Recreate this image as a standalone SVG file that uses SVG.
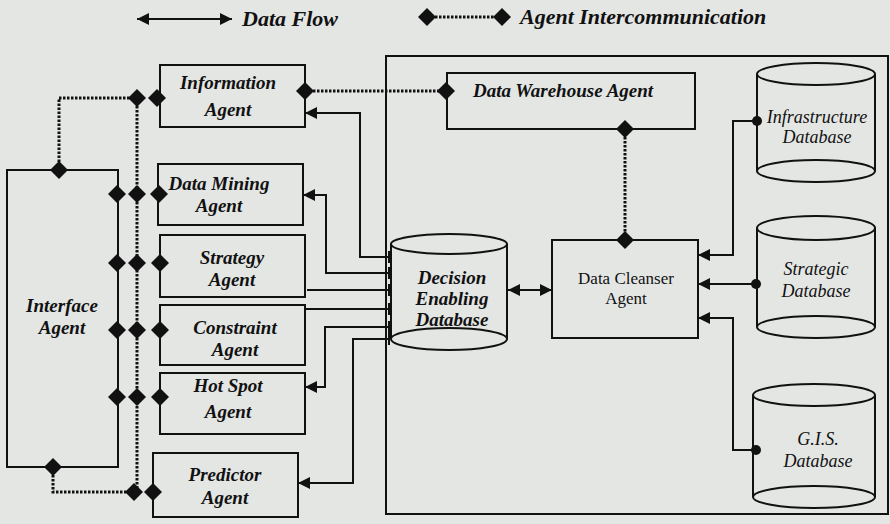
<svg xmlns="http://www.w3.org/2000/svg" xmlns:xlink="http://www.w3.org/1999/xlink" width="890" height="524" viewBox="0 0 890 524">
  <defs>
    <style>
      .box { fill: none; stroke: #111; stroke-width: 2; }
      .line { fill: none; stroke: #111; stroke-width: 2; }
      .dot { fill: none; stroke: #111; stroke-width: 3; stroke-dasharray: 2.5 1.5; }
      .agent { font-family: "Liberation Serif", "Times New Roman", serif; font-size: 19px; font-weight: bold; font-style: italic; fill: #111; text-anchor: middle; }
      .db { font-family: "Liberation Serif", "Times New Roman", serif; font-size: 18px; font-style: italic; fill: #111; text-anchor: middle; }
      .plain { font-family: "Liberation Serif", "Times New Roman", serif; font-size: 17px; fill: #111; text-anchor: middle; }
      .legend { font-family: "Liberation Serif", "Times New Roman", serif; font-size: 22px; font-weight: bold; font-style: italic; fill: #111; }
      .cyl { fill: none; stroke: #111; stroke-width: 2; }
    </style>
    <marker id="arrow" markerUnits="userSpaceOnUse" markerWidth="12" markerHeight="12" refX="12" refY="6" orient="auto-start-reverse">
      <path d="M0,0 L12,6 L0,12 Z" fill="#111"/>
    </marker>
    <marker id="tick" markerUnits="userSpaceOnUse" markerWidth="4" markerHeight="12" refX="2" refY="6" orient="auto">
      <path d="M2,0 V12" stroke="#111" stroke-width="2"/>
    </marker>
    <path id="dia" d="M0,-9 L9,0 L0,9 L-9,0 Z" fill="#111"/>
    <circle id="pin" r="5" fill="#111"/>
  </defs>

  <rect width="890" height="524" fill="#e4e6e4"/>

  <!-- legend -->
  <g id="legend">
    <line class="line" x1="137" y1="19" x2="232" y2="19" marker-start="url(#arrow)" marker-end="url(#arrow)"/>
    <text class="legend" x="242" y="26">Data Flow</text>
    <line class="dot" x1="427" y1="17" x2="502" y2="17"/>
    <use xlink:href="#dia" x="427" y="17"/>
    <use xlink:href="#dia" x="502" y="17"/>
    <text class="legend" x="520" y="24">Agent Intercommunication</text>
  </g>

  <!-- enclosing frame of the data layer -->
  <rect id="data-layer" class="box" x="386" y="56" width="502" height="458"/>

  <!-- connectors -->
  <g id="connectors">
    <!-- agent intercommunication (dotted) -->
    <polyline class="dot" points="59,170 59,98 137,98"/>
    <line class="dot" x1="137" y1="98" x2="137" y2="492"/>
    <polyline class="dot" points="53,467 53,492 135,492"/>
    <line class="dot" x1="305" y1="91" x2="446" y2="91"/>
    <line class="dot" x1="625" y1="129" x2="625" y2="240"/>

    <!-- data flow between decision database and agents -->
    <path class="line" d="M389,257 H360 V113 H305" marker-start="url(#tick)" marker-end="url(#arrow)"/>
    <path class="line" d="M389,273 H326 V195 H303" marker-start="url(#tick)" marker-end="url(#arrow)"/>
    <path class="line" d="M307,290 H389" marker-end="url(#tick)"/>
    <path class="line" d="M306,309 H389" marker-end="url(#tick)"/>
    <path class="line" d="M389,327 H325 V387 H305" marker-start="url(#tick)" marker-end="url(#arrow)"/>
    <path class="line" d="M389,339 H353 V483 H298" marker-start="url(#tick)" marker-end="url(#arrow)"/>

    <!-- decision database <-> data cleanser -->
    <line class="line" x1="508" y1="290" x2="552" y2="290" marker-start="url(#arrow)" marker-end="url(#arrow)"/>

    <!-- source databases into data cleanser -->
    <path class="line" d="M757,121 H733 V255 H698" marker-end="url(#arrow)"/>
    <path class="line" d="M756,284 H698" marker-end="url(#arrow)"/>
    <path class="line" d="M756,450 H733 V318 H698" marker-end="url(#arrow)"/>
    <use xlink:href="#pin" x="757" y="121"/>
    <use xlink:href="#pin" x="756" y="284"/>
    <use xlink:href="#pin" x="756" y="450"/>

    <!-- diamonds on the interface agent -->
    <use xlink:href="#dia" x="59" y="170"/>
    <use xlink:href="#dia" x="53" y="467"/>
    <use xlink:href="#dia" x="117" y="194"/>
    <use xlink:href="#dia" x="117" y="263"/>
    <use xlink:href="#dia" x="117" y="330"/>
    <use xlink:href="#dia" x="117" y="397"/>
    <!-- diamonds on the shared bus -->
    <use xlink:href="#dia" x="137" y="98"/>
    <use xlink:href="#dia" x="137" y="194"/>
    <use xlink:href="#dia" x="137" y="263"/>
    <use xlink:href="#dia" x="137" y="330"/>
    <use xlink:href="#dia" x="137" y="397"/>
    <use xlink:href="#dia" x="134" y="492"/>
    <!-- diamonds on the agents -->
    <use xlink:href="#dia" x="157" y="98"/>
    <use xlink:href="#dia" x="159" y="194"/>
    <use xlink:href="#dia" x="160" y="263"/>
    <use xlink:href="#dia" x="160" y="330"/>
    <use xlink:href="#dia" x="160" y="397"/>
    <use xlink:href="#dia" x="153" y="492"/>
    <use xlink:href="#dia" x="305" y="91"/>
    <use xlink:href="#dia" x="446" y="91"/>
    <use xlink:href="#dia" x="625" y="129"/>
    <use xlink:href="#dia" x="625" y="240"/>
  </g>

  <!-- agents -->
  <g id="interface-agent">
    <rect class="box" x="7" y="170" width="111" height="297"/>
    <text class="agent" x="62" y="312">Interface</text>
    <text class="agent" x="62" y="334">Agent</text>
  </g>
  <g id="information-agent">
    <rect class="box" x="160" y="65" width="145" height="62"/>
    <text class="agent" x="228" y="89">Information</text>
    <text class="agent" x="228" y="116">Agent</text>
  </g>
  <g id="data-mining-agent">
    <rect class="box" x="158" y="164" width="145" height="61"/>
    <text class="agent" x="219" y="190">Data Mining</text>
    <text class="agent" x="219" y="212">Agent</text>
  </g>
  <g id="strategy-agent">
    <rect class="box" x="160" y="235" width="145" height="62"/>
    <text class="agent" x="232" y="264">Strategy</text>
    <text class="agent" x="232" y="286">Agent</text>
  </g>
  <g id="constraint-agent">
    <rect class="box" x="160" y="305" width="145" height="60"/>
    <text class="agent" x="235" y="334">Constraint</text>
    <text class="agent" x="235" y="356">Agent</text>
  </g>
  <g id="hot-spot-agent">
    <rect class="box" x="160" y="373" width="145" height="61"/>
    <text class="agent" x="228" y="392">Hot Spot</text>
    <text class="agent" x="228" y="418">Agent</text>
  </g>
  <g id="predictor-agent">
    <rect class="box" x="153" y="453" width="145" height="64"/>
    <text class="agent" x="225" y="481">Predictor</text>
    <text class="agent" x="225" y="504">Agent</text>
  </g>

  <!-- data layer -->
  <g id="data-warehouse-agent">
    <rect class="box" x="447" y="73" width="248" height="56"/>
    <text class="agent" x="563" y="97">Data Warehouse Agent</text>
  </g>
  <g id="data-cleanser-agent">
    <rect class="box" x="552" y="240" width="146" height="98"/>
    <text class="plain" x="626" y="284">Data Cleanser</text>
    <text class="plain" x="626" y="304">Agent</text>
  </g>
  <g id="decision-enabling-database">
    <path class="cyl" d="M391,244 V339 A58,11 0 0 0 507,339 V244"/>
    <ellipse class="cyl" cx="449" cy="244" rx="58" ry="10"/>
    <path class="cyl" d="M391,339 A58,11 0 0 1 507,339"/>
    <text class="agent" x="452" y="284">Decision</text>
    <text class="agent" x="452" y="305">Enabling</text>
    <text class="agent" x="452" y="326">Database</text>
  </g>
  <g id="infrastructure-database">
    <path class="cyl" d="M757,74 V171 A59,11 0 0 0 875,171 V74"/>
    <ellipse class="cyl" cx="816" cy="74" rx="59" ry="11"/>
    <path class="cyl" d="M757,171 A59,11 0 0 1 875,171"/>
    <text class="db" x="817" y="123">Infrastructure</text>
    <text class="db" x="817" y="143">Database</text>
  </g>
  <g id="strategic-database">
    <path class="cyl" d="M757,228 V327 A59,11 0 0 0 875,327 V228"/>
    <ellipse class="cyl" cx="816" cy="228" rx="59" ry="12"/>
    <path class="cyl" d="M757,327 A59,11 0 0 1 875,327"/>
    <text class="db" x="816" y="275">Strategic</text>
    <text class="db" x="816" y="297">Database</text>
  </g>
  <g id="gis-database">
    <path class="cyl" d="M753,395 V497 A61,11 0 0 0 875,497 V395"/>
    <ellipse class="cyl" cx="814" cy="395" rx="61" ry="11"/>
    <path class="cyl" d="M753,497 A61,11 0 0 1 875,497"/>
    <text class="db" x="818" y="445">G.I.S.</text>
    <text class="db" x="818" y="467">Database</text>
  </g>
</svg>
